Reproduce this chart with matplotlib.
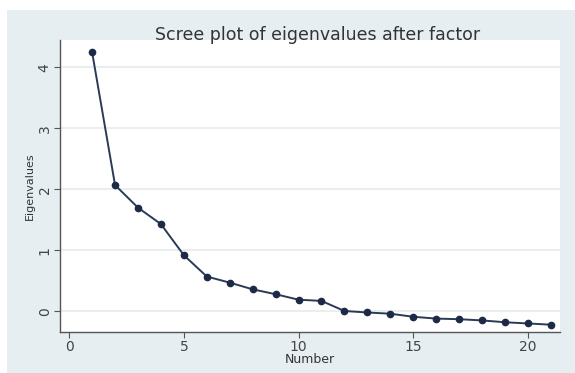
import matplotlib
matplotlib.use("Agg")
import matplotlib.pyplot as plt
from matplotlib.patches import Rectangle

number = list(range(1, 22))
eigenvalues = [4.25, 2.07, 1.70, 1.43, 0.92, 0.57, 0.47, 0.36, 0.28, 0.19, 0.17,
               0.005, -0.02, -0.04, -0.09, -0.12, -0.13, -0.15, -0.18, -0.20, -0.22]
xticks = [0, 5, 10, 15, 20]
yticks = [0, 1, 2, 3, 4]

W, H = 575, 373
fig = plt.figure(figsize=(W / 100, H / 100), dpi=100, facecolor="white")
fig.patches.append(Rectangle((7 / W, 0), (W - 7) / W, (H - 10) / H,
                             transform=fig.transFigure, facecolor="#e6eef1",
                             edgecolor="none", zorder=-10))

ax = fig.add_axes([60 / W, (H - 332) / H, 500 / W, 292 / H])
ax.set_facecolor("white")
ax.plot(number, eigenvalues, color="#2b3a55", lw=1.4, marker="o", ms=4.5,
        mfc="#1c2a48", mec="#1c2a48", zorder=3)
ax.set_xlim(-0.4, 21.4)
ax.set_ylim(-0.34, 4.45)
ax.set_xticks(xticks)
ax.set_yticks(yticks)
ax.set_yticklabels([str(v) for v in yticks], rotation=90, va="center")
ax.grid(axis="y", color="#e9eeee", lw=1.5)
ax.set_axisbelow(True)
for s in ["top", "right"]:
    ax.spines[s].set_visible(False)
for s in ["left", "bottom"]:
    ax.spines[s].set_color("#555555")
    ax.spines[s].set_linewidth(1.0)
ax.tick_params(colors="#555555", labelcolor="#444444", labelsize=10, length=4,
               pad=2)
ax.set_xlabel("Number", fontsize=9, color="#333333", labelpad=-1)
ax.set_ylabel("Eigenvalues", fontsize=8, color="#333333", labelpad=2)
fig.text(0.552, (H - 35) / H, "Scree plot of eigenvalues after factor",
         ha="center", va="center", fontsize=12.5, color="#333333")
fig.savefig("out.png", dpi=100)
